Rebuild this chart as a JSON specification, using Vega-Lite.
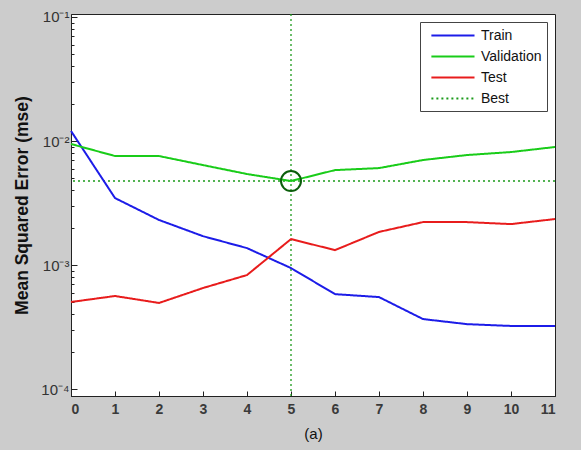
{
  "$schema": "https://vega.github.io/schema/vega-lite/v6.json",
  "width": 484,
  "height": 382,
  "autosize": "none",
  "padding": {"left": 71, "top": 14, "right": 26, "bottom": 54},
  "background": "#cccccc",
  "config": {
    "view": {"fill": "white", "stroke": "#222222", "strokeWidth": 1},
    "font": "Liberation Sans",
    "axis": {"domainColor": "#222222", "tickColor": "#222222", "grid": false, "labelColor": "#333333"}
  },
  "datasets": {
    "perf": [
      {"epoch": 0, "series": "Train", "mse": 0.01205},
      {"epoch": 1, "series": "Train", "mse": 0.00347},
      {"epoch": 2, "series": "Train", "mse": 0.00231},
      {"epoch": 3, "series": "Train", "mse": 0.00171},
      {"epoch": 4, "series": "Train", "mse": 0.00137},
      {"epoch": 5, "series": "Train", "mse": 0.000946},
      {"epoch": 6, "series": "Train", "mse": 0.000583},
      {"epoch": 7, "series": "Train", "mse": 0.000552},
      {"epoch": 8, "series": "Train", "mse": 0.000367},
      {"epoch": 9, "series": "Train", "mse": 0.000334},
      {"epoch": 10, "series": "Train", "mse": 0.000323},
      {"epoch": 11, "series": "Train", "mse": 0.000323},
      {"epoch": 0, "series": "Validation", "mse": 0.00946},
      {"epoch": 1, "series": "Validation", "mse": 0.00757},
      {"epoch": 2, "series": "Validation", "mse": 0.00757},
      {"epoch": 3, "series": "Validation", "mse": 0.0064},
      {"epoch": 4, "series": "Validation", "mse": 0.00542},
      {"epoch": 5, "series": "Validation", "mse": 0.00476},
      {"epoch": 6, "series": "Validation", "mse": 0.00583},
      {"epoch": 7, "series": "Validation", "mse": 0.00605},
      {"epoch": 8, "series": "Validation", "mse": 0.00703},
      {"epoch": 9, "series": "Validation", "mse": 0.00771},
      {"epoch": 10, "series": "Validation", "mse": 0.00815},
      {"epoch": 11, "series": "Validation", "mse": 0.00895},
      {"epoch": 0, "series": "Test", "mse": 0.000504},
      {"epoch": 1, "series": "Test", "mse": 0.000563},
      {"epoch": 2, "series": "Test", "mse": 0.000495},
      {"epoch": 3, "series": "Test", "mse": 0.000653},
      {"epoch": 4, "series": "Test", "mse": 0.000831},
      {"epoch": 5, "series": "Test", "mse": 0.00162},
      {"epoch": 6, "series": "Test", "mse": 0.00132},
      {"epoch": 7, "series": "Test", "mse": 0.00185},
      {"epoch": 8, "series": "Test", "mse": 0.00222},
      {"epoch": 9, "series": "Test", "mse": 0.00222},
      {"epoch": 10, "series": "Test", "mse": 0.00214},
      {"epoch": 11, "series": "Test", "mse": 0.00235}
    ],
    "best": [{"series": "Best", "epoch": 5, "mse": 0.00476}]
  },
  "layer": [
    {
      "data": {"name": "best"},
      "mark": {"type": "rule", "strokeWidth": 1.3},
      "encoding": {
        "x": {"field": "epoch", "type": "quantitative", "scale": {"domain": [0, 11], "nice": false},
          "axis": {"values": [0,1,2,3,4,5,6,7,8,9,10,11], "tickSize": -5, "labelPadding": 11, "labelFontSize": 14, "labelFontWeight": "bold", "labelColor": "#3a3a3a",
            "title": "(a)", "titleFontSize": 15, "titleFontWeight": "normal", "titleColor": "#111111", "titlePadding": 10}},
        "color": {"field": "series", "type": "nominal"},
        "strokeDash": {"field": "series", "type": "nominal"}
      }
    },
    {
      "data": {"name": "best"},
      "mark": {"type": "rule", "strokeWidth": 1.3},
      "encoding": {
        "y": {"field": "mse", "type": "quantitative", "scale": {"type": "log", "domain": [0.000088, 0.1057], "nice": false}},
        "color": {"field": "series", "type": "nominal"},
        "strokeDash": {"field": "series", "type": "nominal"}
      }
    },
    {
      "data": {"name": "perf"},
      "mark": {"type": "line", "strokeWidth": 2},
      "encoding": {
        "x": {"field": "epoch", "type": "quantitative"},
        "y": {"field": "mse", "type": "quantitative",
          "axis": {
            "values": [0.0001,0.0002,0.0003,0.0004,0.0005,0.0006,0.0007,0.0008,0.0009,0.001,0.002,0.003,0.004,0.005,0.006,0.007,0.008,0.009,0.01,0.02,0.03,0.04,0.05,0.06,0.07,0.08,0.09,0.1],
            "labelExpr": "datum.value == 0.1 ? '10⁻¹' : datum.value == 0.01 ? '10⁻²' : datum.value == 0.001 ? '10⁻³' : datum.value == 0.0001 ? '10⁻⁴' : ''",
            "tickSize": {"condition": {"test": "abs(log(datum.value)/LN10 - round(log(datum.value)/LN10)) < 0.001", "value": -6}, "value": -3},
            "labelPadding": 8, "labelFontSize": 15, "labelFontWeight": "normal", "labelColor": "#333333",
            "title": "Mean Squared Error  (mse)", "titleFontSize": 17.5, "titleFontWeight": "bold", "titleColor": "#111111", "titlePadding": 9
          }},
        "color": {"field": "series", "type": "nominal",
          "scale": {"domain": ["Train", "Validation", "Test", "Best"], "range": ["#1c1ce8", "#19cc19", "#e81c1c", "#1a9a1a"]},
          "legend": {"title": null, "orient": "none", "legendX": 349, "legendY": 8, "symbolType": "M-0.3,0H5.8", "symbolSize": 200, "symbolStrokeWidth": 2,
            "labelFontSize": 14, "labelColor": "#111111", "strokeColor": "#444444", "fillColor": "white", "padding": 5, "rowPadding": 5, "labelOffset": 39}},
        "strokeDash": {"field": "series", "type": "nominal",
          "scale": {"domain": ["Train", "Validation", "Test", "Best"], "range": [[1, 0], [1, 0], [1, 0], [2, 3]]},
          "legend": {"title": null, "orient": "none", "legendX": 349, "legendY": 8, "symbolType": "M-0.3,0H5.8", "symbolSize": 200, "symbolStrokeWidth": 2,
            "labelFontSize": 14, "labelColor": "#111111", "strokeColor": "#444444", "fillColor": "white", "padding": 5, "rowPadding": 5, "labelOffset": 39}}
      }
    },
    {
      "data": {"name": "best"},
      "mark": {"type": "point", "shape": "circle", "size": 400, "strokeWidth": 2, "color": "#0b5e0b", "filled": false, "opacity": 1},
      "encoding": {
        "x": {"field": "epoch", "type": "quantitative"},
        "y": {"field": "mse", "type": "quantitative"}
      }
    }
  ]
}
